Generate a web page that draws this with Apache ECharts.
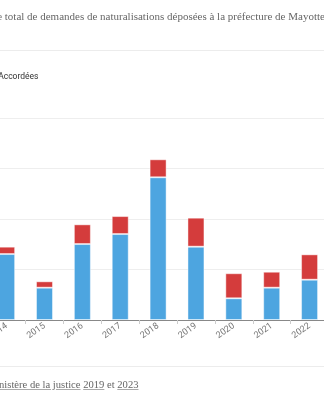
<!DOCTYPE html>
<html lang="fr">
<head>
<meta charset="utf-8">
<script src="https://cdn.jsdelivr.net/npm/echarts@6/dist/echarts.min.js"></script>
<style>
  html, body { margin: 0; padding: 0; width: 324px; height: 400px; overflow: hidden; background: #fff; }
  #wrap { position: absolute; left: -60px; top: 0; width: 390px; height: 400px; }
  #chart { position: absolute; left: 0; top: 0; width: 390px; height: 400px; }
  .rule { position: absolute; left: 0; width: 390px; height: 0; border-top: 1px solid #ececec; }
  #source { position: absolute; left: 9px; top: 379px; font-family: "Liberation Serif", serif; font-size: 10.6px; color: #666; white-space: nowrap; }
  #source a { color: #666; text-decoration: underline; text-decoration-color: #aaa; }
</style>
</head>
<body>
<div id="wrap">
  <div class="rule" style="top:50px"></div>
  <div id="chart"></div>
  <div class="rule" style="top:366px"></div>
  <div id="source">Source : <a>Ministère de la justice</a> <a>2019</a> et <a>2023</a></div>
</div>
<script>
// Demandes de naturalisation déposées à Mayotte, par année
const years = ["2014", "2015", "2016", "2017", "2018", "2019", "2020", "2021", "2022"];
const accordees = [653, 320, 752, 851, 1413, 726, 215, 320, 399];
const refusees = [73, 63, 195, 178, 178, 287, 248, 158, 251];
const yTicks = [0, 500, 1000, 1500, 2000];

const chart = echarts.init(document.getElementById('chart'));
chart.setOption({
  animation: false,
  title: {
    text: "Nombre total de demandes de naturalisations déposées à la préfecture de Mayotte",
    left: 21, top: 7,
    textStyle: { fontFamily: "Liberation Serif", fontWeight: "normal", fontSize: 11, color: "#666" }
  },
  legend: {
    data: ["Refusées", "Accordées"],
    left: -22, top: 66,
    itemWidth: 9, itemHeight: 9, itemGap: 10,
    icon: "rect",
    textStyle: { fontFamily: "Roboto", fontSize: 8.5, color: "#333" }
  },
  grid: { left: 47.7, right: 1.5, top: 118, bottom: 80, containLabel: false },
  xAxis: {
    type: "category",
    data: years,
    axisLine: { lineStyle: { color: "#888", width: 1 } },
    axisTick: { show: true, length: 4, lineStyle: { color: "#ccc" } },
    axisLabel: { rotate: 35, fontFamily: "Roboto", fontSize: 9, color: "#777", margin: 5 }
  },
  yAxis: {
    type: "value",
    min: yTicks[0], max: yTicks[yTicks.length - 1], interval: 500,
    axisLine: { show: false }, axisTick: { show: false },
    axisLabel: { fontFamily: "Roboto", fontSize: 9, color: "#777" },
    splitLine: { lineStyle: { color: "#eeeeee", width: 1 } }
  },
  series: [
    {
      name: "Accordées", type: "bar", stack: "total", data: accordees,
      barWidth: 17,
      itemStyle: { color: "#4da5e0", borderColor: "rgba(255,255,255,0.45)", borderWidth: 1 }
    },
    {
      name: "Refusées", type: "bar", stack: "total", data: refusees,
      barWidth: 17,
      itemStyle: { color: "#d43c3c", borderColor: "rgba(255,255,255,0.45)", borderWidth: 1 }
    }
  ]
});
</script>
</body>
</html>
